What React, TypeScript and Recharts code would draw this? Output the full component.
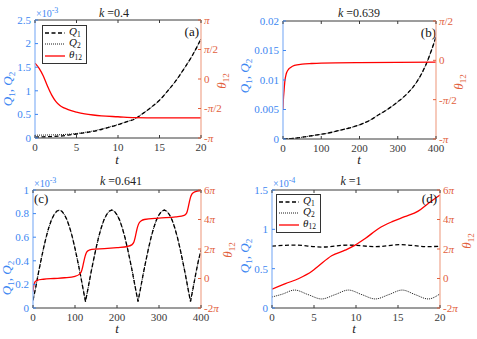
import React from 'react';
import { ComposedChart, Line, XAxis, YAxis, Legend, Label } from 'recharts';

const FONT = '"Liberation Serif", "Times New Roman", serif';
const BLUE = '#3d87f2';
const BLUE_AXIS = '#86b3f6';
const ORANGE = '#e2603c';
const ORANGE_AXIS = '#f0a68e';
const DARK = '#3a3a3a';

// (a) k = 0.4 -- Q in units of 1e-3, theta in units of pi
const tA = [0, 1, 2, 3, 4, 5, 6, 7, 8, 9, 10, 11, 12, 13, 14, 15, 16, 17, 18, 19, 20];
const q1A = [0.02, 0.025, 0.03, 0.04, 0.06, 0.085, 0.11, 0.14, 0.18, 0.23, 0.28, 0.34, 0.4, 0.52, 0.65, 0.8, 1.0, 1.22, 1.48, 1.76, 2.1];
const q2A = [0.06, 0.062, 0.065, 0.07, 0.08, 0.095, 0.12, 0.15, 0.19, 0.235, 0.285, 0.345, 0.405, 0.52, 0.65, 0.8, 1.0, 1.22, 1.48, 1.76, 2.1];
const tThA = [0, 0.5, 1, 1.5, 2, 2.5, 3, 3.5, 4, 5, 6, 7, 8, 10, 12, 15, 20];
const thA = [0.27, 0.18, 0.05, -0.12, -0.27, -0.38, -0.45, -0.49, -0.52, -0.56, -0.59, -0.61, -0.625, -0.64, -0.655, -0.66, -0.66];

// (b) k = 0.639
const tB = [0, 25, 50, 75, 100, 125, 150, 175, 200, 225, 250, 275, 300, 325, 350, 375, 400];
const q1B = [0, 0.0001, 0.0003, 0.00055, 0.0008, 0.0011, 0.0015, 0.0019, 0.0024, 0.0031, 0.0041, 0.0051, 0.0063, 0.0077, 0.0097, 0.0128, 0.0173];
const q2B = [0, 0.0001, 0.0003, 0.00055, 0.0008, 0.0011, 0.0015, 0.0019, 0.0024, 0.0031, 0.0041, 0.0051, 0.0063, 0.0077, 0.0097, 0.0128, 0.0173];
const tThB = [0, 1, 2.5, 5, 7.5, 10, 15, 20, 30, 50, 75, 100, 200, 400];
const thB = [-0.63, -0.5, -0.4, -0.26, -0.19, -0.15, -0.11, -0.09, -0.065, -0.048, -0.04, -0.035, -0.028, -0.024];

// (c) k = 0.641 -- Q in units of 1e-3
const tC = [
  0, 6.25, 12.5, 18.75, 25, 31.25, 37.5, 43.75, 50, 56.25, 62.5, 68.75, 75, 81.25, 87.5, 93.75, 100, 106.25, 112.5, 118.75,
  125, 131.25, 137.5, 143.75, 150, 156.25, 162.5, 168.75, 175, 181.25, 187.5, 193.75, 200, 206.25, 212.5, 218.75, 225, 231.25, 237.5, 243.75,
  250, 256.25, 262.5, 268.75, 275, 281.25, 287.5, 293.75, 300, 306.25, 312.5, 318.75, 325, 331.25, 337.5, 343.75, 350, 356.25, 362.5, 368.75,
  375, 381.25, 387.5, 393.75, 400,
];
const q1C = [
  0.065, 0.17, 0.29, 0.4, 0.505, 0.6, 0.68, 0.745, 0.79, 0.82, 0.83, 0.82, 0.79, 0.745, 0.68, 0.6, 0.505, 0.4, 0.29, 0.17,
  0.055, 0.17, 0.29, 0.4, 0.505, 0.6, 0.68, 0.745, 0.79, 0.82, 0.83, 0.82, 0.79, 0.745, 0.68, 0.6, 0.505, 0.4, 0.29, 0.17,
  0.055, 0.17, 0.29, 0.4, 0.505, 0.6, 0.68, 0.745, 0.79, 0.82, 0.83, 0.82, 0.79, 0.745, 0.68, 0.6, 0.505, 0.4, 0.29, 0.17,
  0.055, 0.17, 0.29, 0.4, 0.49,
];
const q2C = q1C;
const tThC = [0, 2, 5, 10, 25, 50, 75, 100, 110, 115, 118, 121, 124, 127, 132, 140, 170, 200, 225, 235, 240, 243, 246, 249, 253, 258, 265, 300, 340, 360, 366, 369, 372, 375, 379, 385, 400];
const thC = [-0.9, -0.45, -0.22, -0.12, -0.05, 0, 0.05, 0.15, 0.28, 0.45, 0.75, 1.15, 1.5, 1.75, 1.9, 1.97, 2.03, 2.1, 2.17, 2.28, 2.45, 2.75, 3.15, 3.5, 3.78, 3.92, 4.0, 4.1, 4.18, 4.28, 4.45, 4.75, 5.15, 5.5, 5.75, 5.88, 5.96];

// (d) k = 1 -- Q in units of 1e-4
const tQ1D = [0, 2.6, 6, 9.1, 12.3, 15.3, 18.6, 20];
const q1D = [0.786, 0.8, 0.775, 0.8, 0.78, 0.805, 0.78, 0.785];
const tQ2D = [0, 1.2, 2.7, 4.3, 5.9, 7.5, 9.1, 10.7, 12.3, 13.9, 15.5, 17.05, 18.6, 20];
const q2D = [0.14, 0.175, 0.228, 0.17, 0.115, 0.17, 0.228, 0.17, 0.115, 0.17, 0.228, 0.17, 0.115, 0.18];
const tThD = [0, 1.6, 3.2, 4.75, 5.5, 7.1, 8.7, 9.9, 11.1, 12.7, 14.3, 15.8, 17.4, 18.6, 20];
const thD = [-0.73, -0.35, 0, 0.49, 0.83, 1.54, 1.92, 2.26, 2.71, 3.39, 3.85, 4.19, 4.57, 5.09, 5.66];

// ticks
const xTicks20 = [0, 5, 10, 15, 20];
const xTicks400 = [0, 100, 200, 300, 400];
const lTicksA = [0, 0.5, 1, 1.5, 2, 2.5];
const lLabelsA = ['0', '0.5', '1', '1.5', '2', '2.5'];
const lTicksB = [0, 0.005, 0.01, 0.015, 0.02];
const lLabelsB = ['0', '0.005', '0.01', '0.015', '0.02'];
const lTicksC = [0, 0.2, 0.4, 0.6, 0.8, 1];
const lLabelsC = ['0', '0.2', '0.4', '0.6', '0.8', '1'];
const lTicksD = [0, 0.5, 1, 1.5];
const lLabelsD = ['0', '0.5', '1', '1.5'];
const rTicksA = [-1, -0.5, 0, 0.5, 1];
const rLabelsA = ['-π', '-π/2', '0', 'π/2', 'π'];
const rTicksB = [-1, -0.5, 0, 0.5];
const rLabelsB = ['-π', '-π/2', '0', 'π/2'];
const rTicksCD = [-2, 0, 2, 4, 6];
const rLabelsCD = ['-2π', '0', '2π', '4π', '6π'];

type S = { key: string; sym: string; sub: string; t: number[]; v: number[]; axis: 'L' | 'R'; color: string; w: number; dash?: string; curve: 'monotone' | 'linear' };

const q1Style = { color: '#000', w: 1.3, dash: '4 2.5' };
const q2Style = { color: '#000', w: 0.9, dash: '1 1' };
const thStyle = { color: '#ff0000', w: 1.3 };

const mk = (key: string, sym: string, sub: string, t: number[], v: number[], axis: 'L' | 'R', st: any, curve: 'monotone' | 'linear' = 'monotone'): S =>
  ({ key, sym, sub, t, v, axis, color: st.color, w: st.w, dash: st.dash, curve });

const rows = (t: number[], v: number[]) => t.map((x, i) => ({ t: x, v: v[i] }));

const piText = (s: string) => {
  if (!s.includes('π')) return s;
  const [a, b] = s.split('π');
  return (
    <>
      {a}
      <tspan fontStyle="italic">π</tspan>
      {b}
    </>
  );
};

const leftTick = (ticks: number[], labels: string[]) => (p: any) => {
  const { x, y, payload } = p;
  const i = ticks.findIndex((v) => Math.abs(v - payload.value) < 1e-9);
  return (
    <g>
      <line x1={x + 4} x2={x + 7} y1={y} y2={y} stroke={BLUE} strokeWidth={1} />
      <text x={x} y={y} dy="0.35em" textAnchor="end" fill={BLUE} fontSize={11} fontFamily={FONT}>{labels[i]}</text>
    </g>
  );
};

const rightTick = (ticks: number[], labels: string[]) => (p: any) => {
  const { x, y, payload } = p;
  const i = ticks.findIndex((v) => Math.abs(v - payload.value) < 1e-9);
  return (
    <g>
      <line x1={x - 6} x2={x - 3} y1={y} y2={y} stroke={ORANGE} strokeWidth={1} />
      <text x={x} y={y} dy="0.35em" textAnchor="start" fill={ORANGE} fontSize={11} fontFamily={FONT}>{piText(labels[i] || '')}</text>
    </g>
  );
};

const bottomTick = (p: any) => {
  const { x, y, payload } = p;
  return (
    <g>
      <line x1={x} x2={x} y1={y - 5} y2={y - 8} stroke={DARK} strokeWidth={1} />
      <text x={x} y={y} dy="0.72em" textAnchor="middle" fill={DARK} fontSize={11} fontFamily={FONT}>{payload.value}</text>
    </g>
  );
};

const topTick = (p: any) => {
  const { x, y } = p;
  return <line x1={x} x2={x} y1={y} y2={y + 3} stroke={DARK} strokeWidth={1} />;
};

type P = {
  left: number; top: number; w: number; h: number;
  pl: number; pr: number; pt: number; pb: number;
  xDom: [number, number]; xTicks: number[];
  lDom: [number, number]; lTicks: number[]; lLabels: string[];
  rDom: [number, number]; rTicks: number[]; rLabels: string[];
  series: S[];
  title: string; titleX: number; titleY: number;
  letter: string; letterX: number; letterY: number; letterAnchor: 'start' | 'end';
  mult?: string; multX?: number; multY?: number;
  qLab: [number, number]; thLab: [number, number]; tLab: [number, number];
  legend?: [number, number];
};

const LegendBox = ({ items }: { items: S[] }) => (
  <div style={{ border: '1px solid #333', background: '#fff', padding: '1px 4px 1px 1px', fontFamily: FONT, fontSize: 11, color: '#111' }}>
    {items.map((it) => (
      <div key={it.key} style={{ display: 'flex', alignItems: 'center', height: 11.5 }}>
        <svg width={22} height={8}>
          <line x1={1} x2={21} y1={4} y2={4} stroke={it.color} strokeWidth={it.w} strokeDasharray={it.dash} />
        </svg>
        <span style={{ marginLeft: 3, fontStyle: 'italic', lineHeight: '11px' }}>
          {it.sym}
          <sub style={{ fontSize: 7.5, fontStyle: 'normal', verticalAlign: '-2px' }}>{it.sub}</sub>
        </span>
      </div>
    ))}
  </div>
);

const Panel = (p: P) => {
  const YW = 30;
  const XH = 1;
  const margin = { top: p.pt - XH, bottom: p.h - p.pb - XH, left: p.pl - YW, right: p.w - p.pr - YW };
  return (
    <div style={{ position: 'absolute', left: p.left, top: p.top }}>
      <ComposedChart width={p.w} height={p.h} margin={margin} style={{ fontFamily: FONT }}>
        <XAxis xAxisId="b" orientation="bottom" type="number" dataKey="t" domain={p.xDom} ticks={p.xTicks} interval={0} allowDataOverflow
          height={XH} tickSize={0} tickMargin={5} tickLine={false} tick={bottomTick} axisLine={{ stroke: DARK }}>
          <Label content={() => (
            <text x={p.tLab[0]} y={p.tLab[1]} textAnchor="middle" fontStyle="italic" fontSize={13} fill="#222" fontFamily={FONT}>t</text>
          )} />
        </XAxis>
        <XAxis xAxisId="top" orientation="top" type="number" dataKey="t" domain={p.xDom} ticks={p.xTicks} interval={0} allowDataOverflow
          height={XH} tickSize={0} tickMargin={0} tickLine={false} tick={topTick} axisLine={{ stroke: DARK }}>
          <Label content={() => (
            <g fontFamily={FONT}>
              <text x={p.titleX} y={p.titleY} textAnchor="middle" fontSize={12} fill="#222">
                <tspan fontStyle="italic">k</tspan> ={p.title}
              </text>
              <text x={p.letterX} y={p.letterY} textAnchor={p.letterAnchor} fontSize={13} fill="#111">{p.letter}</text>
              {p.mult && (
                <text x={p.multX} y={p.multY} fontSize={10} fill={BLUE}>
                  ×10<tspan fontSize={8} dy={-4}>{p.mult}</tspan>
                </text>
              )}
            </g>
          )} />
        </XAxis>
        <YAxis yAxisId="L" orientation="left" type="number" width={YW} domain={p.lDom} ticks={p.lTicks} interval={0} allowDataOverflow
          tickSize={0} tickMargin={4} tickLine={false} tick={leftTick(p.lTicks, p.lLabels)} axisLine={{ stroke: BLUE_AXIS, strokeWidth: 1.2 }}>
          <Label content={() => (
            <text x={p.qLab[0]} y={p.qLab[1]} transform={`rotate(-90 ${p.qLab[0]} ${p.qLab[1]})`} textAnchor="middle" fontSize={13} fill={BLUE} fontFamily={FONT}>
              <tspan fontStyle="italic">Q</tspan><tspan fontSize={9} dy={3}>1</tspan><tspan dy={-3}>, </tspan>
              <tspan fontStyle="italic">Q</tspan><tspan fontSize={9} dy={3}>2</tspan>
            </text>
          )} />
        </YAxis>
        <YAxis yAxisId="R" orientation="right" type="number" width={YW} domain={p.rDom} ticks={p.rTicks} interval={0} allowDataOverflow
          tickSize={0} tickMargin={3} tickLine={false} tick={rightTick(p.rTicks, p.rLabels)} axisLine={{ stroke: ORANGE_AXIS, strokeWidth: 1.2 }}>
          <Label content={() => (
            <text x={p.thLab[0]} y={p.thLab[1]} transform={`rotate(-90 ${p.thLab[0]} ${p.thLab[1]})`} textAnchor="middle" fontSize={13} fill={ORANGE} fontFamily={FONT}>
              <tspan fontStyle="italic">θ</tspan><tspan fontSize={9} dy={3}>12</tspan>
            </text>
          )} />
        </YAxis>
        {p.series.map((s) => (
          <Line key={s.key} data={rows(s.t, s.v)} dataKey="v" xAxisId="b" yAxisId={s.axis} type={s.curve}
            stroke={s.color} strokeWidth={s.w} strokeDasharray={s.dash} dot={false} activeDot={false} isAnimationActive={false} />
        ))}
        {p.legend && (
          <Legend layout="vertical" align="center" verticalAlign="middle"
            wrapperStyle={{ left: p.legend[0], top: p.legend[1], width: 'auto' }}
            content={() => <LegendBox items={p.series} />} />
        )}
      </ComposedChart>
    </div>
  );
};

const panels: P[] = [
  {
    left: 0, top: 0, w: 238, h: 170, pl: 35, pr: 201, pt: 20, pb: 138,
    xDom: [0, 20], xTicks: xTicks20, lDom: [0, 2.5], lTicks: lTicksA, lLabels: lLabelsA,
    rDom: [-1, 1], rTicks: rTicksA, rLabels: rLabelsA,
    series: [mk('q1', 'Q', '1', tA, q1A, 'L', q1Style), mk('q2', 'Q', '2', tA, q2A, 'L', q2Style), mk('th', 'θ', '12', tThA, thA, 'R', thStyle)],
    title: '0.4', titleX: 114, titleY: 17, letter: '(a)', letterX: 199, letterY: 36, letterAnchor: 'end',
    mult: '-3', multX: 36, multY: 17, qLab: [12, 89], thLab: [226, 81], tLab: [117, 164], legend: [42, 25],
  },
  {
    left: 238, top: 0, w: 239, h: 170, pl: 45, pr: 198, pt: 21, pb: 139,
    xDom: [0, 400], xTicks: xTicks400, lDom: [0, 0.02], lTicks: lTicksB, lLabels: lLabelsB,
    rDom: [-1, 0.5], rTicks: rTicksB, rLabels: rLabelsB,
    series: [mk('q1', 'Q', '1', tB, q1B, 'L', q1Style), mk('q2', 'Q', '2', tB, q2B, 'L', q2Style), mk('th', 'θ', '12', tThB, thB, 'R', thStyle)],
    title: '0.639', titleX: 121, titleY: 17, letter: '(b)', letterX: 198, letterY: 37, letterAnchor: 'end',
    qLab: [11, 76], thLab: [225, 82], tLab: [121, 164],
  },
  {
    left: 0, top: 170, w: 238, h: 169, pl: 33, pr: 201, pt: 20, pb: 138,
    xDom: [0, 400], xTicks: xTicks400, lDom: [0, 1], lTicks: lTicksC, lLabels: lLabelsC,
    rDom: [-2, 6], rTicks: rTicksCD, rLabels: rLabelsCD,
    series: [mk('q1', 'Q', '1', tC, q1C, 'L', q1Style, 'linear'), mk('q2', 'Q', '2', tC, q2C, 'L', q2Style, 'linear'), mk('th', 'θ', '12', tThC, thC, 'R', thStyle)],
    title: '0.641', titleX: 121, titleY: 15, letter: '(c)', letterX: 34, letterY: 33, letterAnchor: 'start',
    mult: '-3', multX: 34, multY: 17, qLab: [11, 108], thLab: [232, 80], tLab: [117, 163],
  },
  {
    left: 238, top: 170, w: 239, h: 169, pl: 34, pr: 202, pt: 20, pb: 138,
    xDom: [0, 20], xTicks: xTicks20, lDom: [0, 1.5], lTicks: lTicksD, lLabels: lLabelsD,
    rDom: [-2, 6], rTicks: rTicksCD, rLabels: rLabelsCD,
    series: [mk('q1', 'Q', '1', tQ1D, q1D, 'L', q1Style), mk('q2', 'Q', '2', tQ2D, q2D, 'L', q2Style), mk('th', 'θ', '12', tThD, thD, 'R', thStyle)],
    title: '1', titleX: 113, titleY: 15, letter: '(d)', letterX: 199, letterY: 33, letterAnchor: 'end',
    mult: '-4', multX: 35, multY: 17, qLab: [11, 86], thLab: [233, 71], tLab: [116, 163], legend: [38, 24],
  },
];

export default function App() {
  return (
    <div style={{ position: 'absolute', left: 0, top: 0, width: 477, height: 339, background: '#fff', overflow: 'hidden' }}>
      {panels.map((p, i) => (
        <Panel key={i} {...p} />
      ))}
    </div>
  );
}
